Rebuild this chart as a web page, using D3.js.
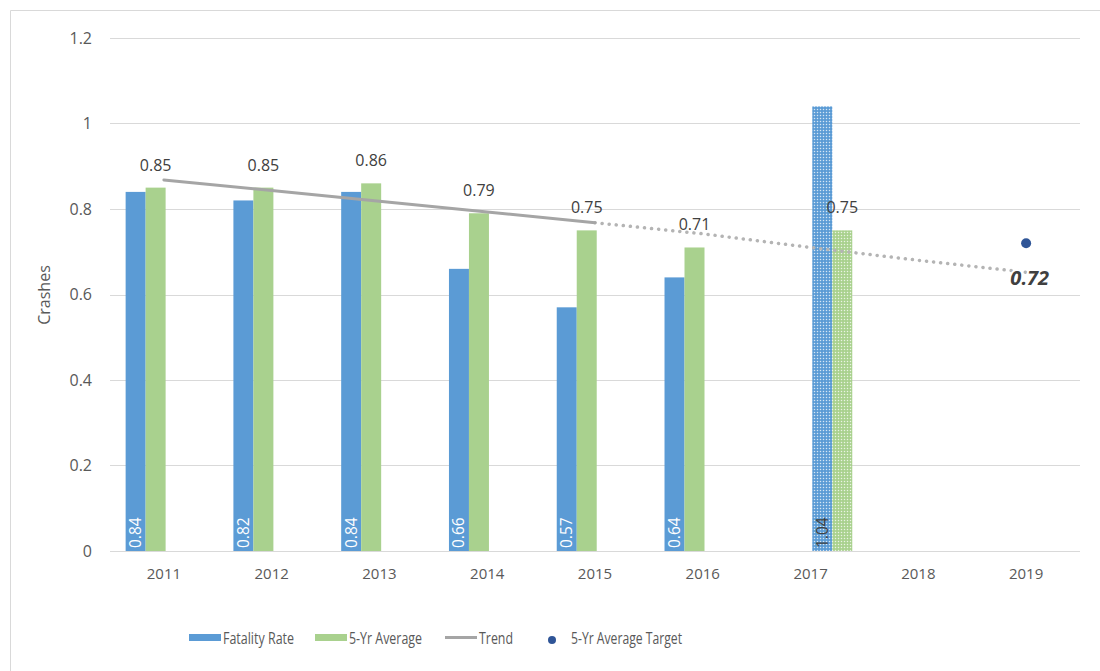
<!DOCTYPE html>
<html>
<head>
<meta charset="utf-8">
<script src="https://cdn.jsdelivr.net/npm/d3@7"></script>
<style>
  html, body { margin: 0; padding: 0; background: #fff; }
  svg { display: block; }
  text { font-family: "Open Sans", "Noto Sans", sans-serif; }
</style>
</head>
<body>
<svg id="chart" width="1100" height="671"></svg>
<script>
// Chart data
const years = ["2011", "2012", "2013", "2014", "2015", "2016", "2017", "2018", "2019"];
const fatalityRate     = [0.84, 0.82, 0.84, 0.66, 0.57, 0.64, null, null, null];
const fiveYrAverage    = [0.85, 0.85, 0.86, 0.79, 0.75, 0.71, null, null, null];
const projectedRate    = [null, null, null, null, null, null, 1.04, null, null];
const projectedAverage = [null, null, null, null, null, null, 0.75, null, null];
const trendActual      = [0.868, 0.843, 0.818, 0.793, 0.768, null, null, null, null];
const trendProjected   = [null, null, null, null, 0.768, 0.742, 0.71, 0.68, 0.652];
const averageTarget    = [null, null, null, null, null, null, null, null, 0.72];
const yTicks = [0, 0.2, 0.4, 0.6, 0.8, 1, 1.2];

const BLUE = "#5B9BD5", GREEN = "#A9D18E", GREY = "#A5A5A5", NAVY = "#2F5597";

const svg = d3.select("#chart");

// Frame
svg.append("path")
  .attr("d", "M10.5,671 V10.5 H1100")
  .attr("fill", "none").attr("stroke", "#D9D9D9").attr("stroke-width", 1);

// Fill patterns for the projected year
const defs = svg.append("defs");
function dotPattern(id, color) {
  const p = defs.append("pattern").attr("id", id)
    .attr("patternUnits", "userSpaceOnUse").attr("width", 3).attr("height", 3);
  p.append("rect").attr("width", 3).attr("height", 3).attr("fill", color);
  p.append("circle").attr("cx", 1.5).attr("cy", 1.5).attr("r", 0.75)
    .attr("fill", "#fff").attr("opacity", 0.75);
}
dotPattern("dotsBlue", BLUE);
dotPattern("dotsGreen", GREEN);

const x = d3.scaleBand().domain(years).range([110, 1080]).padding(0);
const y = d3.scaleLinear().domain([0, 1.2]).range([551, 38]);

// Slots inside each year band
const bw = x.bandwidth();
const slot = d3.scaleBand().domain([0, 1, 2, 3]).range([bw * 0.145, bw * 0.887]);

// Gridlines
svg.append("g").selectAll("line").data(yTicks).join("line")
  .attr("x1", 110).attr("x2", 1080)
  .attr("y1", d => Math.round(y(d)) + 0.5).attr("y2", d => Math.round(y(d)) + 0.5)
  .attr("stroke", "#D9D9D9").attr("stroke-width", 1);

// Y axis labels
const yAxis = svg.append("g").attr("transform", "translate(92,0)")
  .call(d3.axisLeft(y).tickValues(yTicks).tickSize(0).tickPadding(0)
    .tickFormat(d => d3.format("")(+d.toFixed(1))));
yAxis.select(".domain").remove();
yAxis.selectAll("text").attr("fill", "#595959").attr("font-size", 16)
  .style("font-family", "'Open Sans', sans-serif");

// X axis labels
const xAxis = svg.append("g").attr("transform", "translate(0,568)")
  .call(d3.axisBottom(x).tickSize(0).tickPadding(0));
xAxis.select(".domain").remove();
xAxis.selectAll("text").attr("fill", "#595959").attr("font-size", 15)
  .attr("dy", "0.71em")
  .style("font-family", "'Open Sans', sans-serif");

// Y axis title
svg.append("text")
  .attr("transform", "translate(50,295) rotate(-90)")
  .attr("text-anchor", "middle").attr("fill", "#595959").attr("font-size", 16)
  .text("Crashes");

function barSeries(values, slotIdx, fill) {
  const pts = years.map((yr, i) => ({ yr, v: values[i] })).filter(d => d.v != null);
  svg.append("g").selectAll("rect").data(pts).join("rect")
    .attr("x", d => x(d.yr) + slot(slotIdx))
    .attr("width", slot.bandwidth())
    .attr("y", d => y(d.v))
    .attr("height", d => y(0) - y(d.v))
    .attr("fill", fill);
  return pts;
}

const rateBars = barSeries(fatalityRate, 0, BLUE);
const avgBars = barSeries(fiveYrAverage, 1, GREEN);
const projRateBars = barSeries(projectedRate, 2, "url(#dotsBlue)");
const projAvgBars = barSeries(projectedAverage, 3, "url(#dotsGreen)");

// Trend lines
function trendLine(values, dash, width, color) {
  const pts = years.map((yr, i) => ({ yr, v: values[i] })).filter(d => d.v != null);
  svg.append("path").datum(pts)
    .attr("d", d3.line().x(d => x(d.yr) + bw / 2).y(d => y(d.v)))
    .attr("fill", "none").attr("stroke", color).attr("stroke-width", width)
    .attr("stroke-linecap", "round")
    .attr("stroke-dasharray", dash);
}
trendLine(trendProjected, "0.1 7", 3.5, "#B4B4B4");
trendLine(trendActual, null, 3, GREY);

// Value labels for rates (rotated, inside bars)
function rateLabels(pts, slotIdx, color) {
  svg.append("g").selectAll("text").data(pts).join("text")
    .attr("transform", d => `translate(${x(d.yr) + slot(slotIdx) + slot.bandwidth() / 2 + 5.5},${y(0) - 3}) rotate(-90)`)
    .attr("fill", color).attr("font-size", 15.5)
    .text(d => d3.format(".2f")(d.v));
}
rateLabels(rateBars, 0, "#fff");
rateLabels(projRateBars, 2, "#404040");

// Value labels for averages (above bars)
function avgLabels(pts, slotIdx) {
  svg.append("g").selectAll("text").data(pts).join("text")
    .attr("x", d => x(d.yr) + slot(slotIdx) + slot.bandwidth() / 2)
    .attr("y", d => y(d.v) - 17)
    .attr("text-anchor", "middle").attr("fill", "#404040").attr("font-size", 16)
    .text(d => d3.format(".2f")(d.v));
}
avgLabels(avgBars, 1);
avgLabels(projAvgBars, 3);

// Target point
const targetPts = years.map((yr, i) => ({ yr, v: averageTarget[i] })).filter(d => d.v != null);
svg.append("g").selectAll("circle").data(targetPts).join("circle")
  .attr("cx", d => x(d.yr) + bw / 2).attr("cy", d => y(d.v))
  .attr("r", 5).attr("fill", NAVY);
svg.append("g").selectAll("text").data(targetPts).join("text")
  .attr("x", d => x(d.yr) + bw / 2 + 23).attr("y", d => y(d.v) + 42)
  .attr("text-anchor", "end").attr("fill", "#404040")
  .attr("font-size", 20).attr("font-weight", "bold").attr("font-style", "italic")
  .attr("stroke", "#fff").attr("stroke-width", 4).attr("paint-order", "stroke")
  .text(d => d3.format(".2f")(d.v));

// Legend
const legend = svg.append("g").attr("font-size", 17).attr("fill", "#595959");
const legendItems = [
  { label: "Fatality Rate", type: "rect", color: BLUE, x: 189, w: 71 },
  { label: "5-Yr Average", type: "rect", color: GREEN, x: 315, w: 73 },
  { label: "Trend", type: "line", color: GREY, x: 445, w: 34 },
  { label: "5-Yr Average Target", type: "dot", color: NAVY, x: 544, w: 111 }
];
legendItems.forEach(it => {
  const g = legend.append("g").attr("transform", `translate(${it.x},0)`);
  if (it.type === "rect") {
    g.append("rect").attr("x", 0).attr("y", 634).attr("width", 32).attr("height", 7).attr("fill", it.color);
    g.append("text").attr("x", 34).attr("y", 644).attr("textLength", it.w).attr("lengthAdjust", "spacingAndGlyphs").text(it.label);
  } else if (it.type === "line") {
    g.append("line").attr("x1", 0).attr("x2", 32).attr("y1", 637.5).attr("y2", 637.5)
      .attr("stroke", it.color).attr("stroke-width", 3);
    g.append("text").attr("x", 34).attr("y", 644).attr("textLength", it.w).attr("lengthAdjust", "spacingAndGlyphs").text(it.label);
  } else {
    g.append("circle").attr("cx", 8).attr("cy", 640).attr("r", 4).attr("fill", it.color);
    g.append("text").attr("x", 27).attr("y", 644).attr("textLength", it.w).attr("lengthAdjust", "spacingAndGlyphs").text(it.label);
  }
});
</script>
</body>
</html>
